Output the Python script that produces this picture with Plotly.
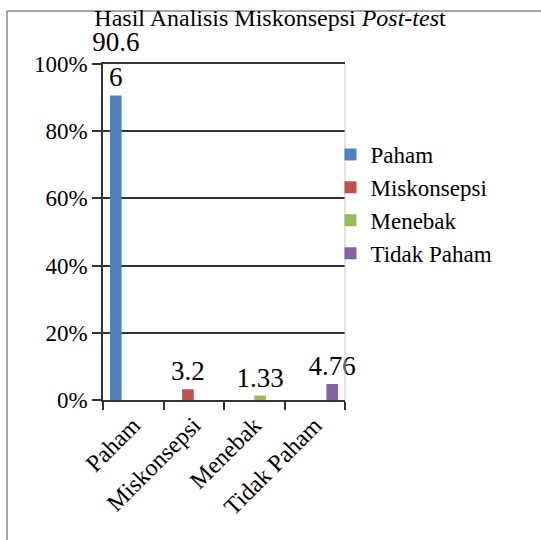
import plotly.graph_objects as go

categories = ["Paham", "Miskonsepsi", "Menebak", "Tidak Paham"]
values = [90.66, 3.2, 1.33, 4.76]
labels = ["90.6<br>6", "3.2", "1.33", "4.76"]
colors = ["#4F81BD", "#C0504D", "#9BBB59", "#8064A2"]
y_ticks = [0, 0.2, 0.4, 0.6, 0.8, 1.0]

FONT = "Times New Roman, Liberation Serif, serif"

fig = go.Figure()
for i, (cat, val, lab, col) in enumerate(zip(categories, values, labels, colors)):
    ys = [val / 100 if j == i else None for j in range(len(categories))]
    txt = [lab if j == i else "" for j in range(len(categories))]
    fig.add_trace(go.Bar(
        name=cat, x=categories, y=ys, marker_color=col,
        marker_line_width=0,
        text=txt, textposition="outside", cliponaxis=False,
        constraintext="none",
        textfont=dict(family=FONT, size=27, color="black"),
    ))

fig.update_layout(
    width=541, height=540,
    margin=dict(l=103, r=196, t=64, b=140),
    paper_bgcolor="white", plot_bgcolor="white",
    barmode="group", bargap=0.23, bargroupgap=0,
    font=dict(family=FONT, color="black", size=22),
    title=dict(text="Hasil Analisis Miskonsepsi <i>Post-tes</i>t",
               x=270 / 541, xref="container", xanchor="center",
               y=1 - 18 / 540, yref="container", yanchor="middle",
               font=dict(family=FONT, size=24, color="black")),
    legend=dict(x=0.94, xanchor="left", y=(400 - 204) / 336, yanchor="middle",
                font=dict(family=FONT, size=23, color="black"),
                bgcolor="rgba(0,0,0,0)", tracegroupgap=0, itemwidth=30),
    showlegend=True,
)

fig.update_xaxes(
    type="category", categoryorder="array", categoryarray=categories,
    tickson="boundaries", ticks="outside", ticklen=8, tickwidth=1.5,
    tickcolor="#333", showline=True, linecolor="#333", linewidth=1.5,
    mirror=True,
    tickangle=-45, showgrid=False, tickfont=dict(family=FONT, size=24),
)
fig.update_yaxes(
    range=[0, 1], tickvals=y_ticks, tickformat=".0%",
    ticks="outside", ticklen=9, tickwidth=1.5, tickcolor="#333",
    showline=True, linecolor="#333", linewidth=1.5,
    showgrid=True, gridcolor="#333", gridwidth=1.5, zeroline=False,
    tickfont=dict(family=FONT, size=23),
)
fig.update_layout(yaxis2=dict(
    overlaying="y", anchor="x", side="left", range=[0, 1],
    tickvals=y_ticks, ticks="inside", ticklen=7, tickwidth=1.5,
    tickcolor="#333", showticklabels=False, showgrid=False,
    showline=False, zeroline=False,
))

# plot-area right border and outer frame
fig.add_shape(type="line", xref="paper", yref="paper", x0=1, x1=1, y0=0, y1=1,
              line=dict(color="#C8C8C8", width=1))
fig.add_shape(type="line", xref="paper", yref="paper",
              x0=(7 - 103) / 242, x1=(7 - 103) / 242, y0=(400 - 11) / 336, y1=-1,
              line=dict(color="#888", width=1.5))
fig.add_shape(type="line", xref="paper", yref="paper",
              x0=(7 - 103) / 242, x1=2, y0=(400 - 11) / 336, y1=(400 - 11) / 336,
              line=dict(color="#888", width=1.5))

fig.write_html("out.html", config={"displayModeBar": False},
               post_script="document.body.style.margin='0px';")
